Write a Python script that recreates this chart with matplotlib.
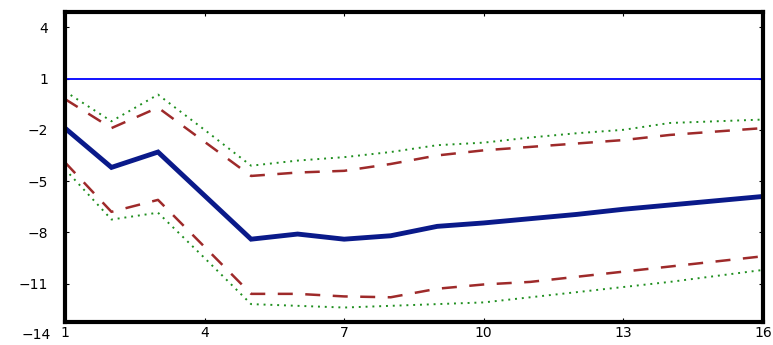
import matplotlib
matplotlib.use("Agg")
import matplotlib.pyplot as plt

periods = list(range(1, 17))
mean_resp = [-1.9, -4.2, -3.3, -5.85, -8.4, -8.1, -8.4, -8.2, -7.65, -7.45, -7.2, -6.95, -6.65, -6.4, -6.15, -5.9]
upper_dash = [-0.2, -1.9, -0.7, -2.7, -4.7, -4.5, -4.4, -4.0, -3.5, -3.2, -3.0, -2.8, -2.6, -2.3, -2.1, -1.9]
lower_dash = [-3.9, -6.8, -6.1, -8.85, -11.6, -11.6, -11.75, -11.8, -11.3, -11.05, -10.9, -10.6, -10.3, -10.0, -9.7, -9.4]
upper_dot = [0.25, -1.5, 0.06, -2.0, -4.1, -3.8, -3.6, -3.3, -2.9, -2.75, -2.45, -2.2, -2.0, -1.6, -1.5, -1.4]
lower_dot = [-4.3, -7.25, -6.85, -9.5, -12.2, -12.3, -12.4, -12.3, -12.2, -12.1, -11.8, -11.5, -11.2, -10.9, -10.55, -10.2]
ref_level = 1
xticks = [1, 4, 7, 10, 13, 16]
yticks = [4, 1, -2, -5, -8, -11]

fig = plt.figure(figsize=(7.73, 3.45), dpi=100)
ax = fig.add_axes([0.084, 0.067, 0.903, 0.898])

ax.axhline(ref_level, color="#0000ff", lw=1.3)
ax.plot(periods, upper_dot, color="#1f8f1f", lw=1.4, ls=(0, (1, 2.5)))
ax.plot(periods, lower_dot, color="#1f8f1f", lw=1.4, ls=(0, (1, 2.5)))
ax.plot(periods, upper_dash, color="#9e2a2a", lw=1.8, ls=(0, (6, 5)))
ax.plot(periods, lower_dash, color="#9e2a2a", lw=1.8, ls=(0, (6, 5)))
ax.plot(periods, mean_resp, color="#0a1a8a", lw=3.5, solid_joinstyle="miter")

ax.set_xlim(1, 16)
ax.set_ylim(-13.24, 4.89)
ax.set_xticks(xticks)
ax.set_yticks(yticks)
ax.set_xticklabels([str(v) for v in xticks])
ax.set_yticklabels([str(v).replace("-", "\u2212") for v in yticks])
ax.text(-0.02, -14, "\u221214", transform=ax.get_yaxis_transform(), ha="right",
        va="center", fontsize=10, clip_on=False)

ax.tick_params(axis="both", direction="in", length=3, width=0.8, labelsize=10,
               top=True, right=True)
ax.tick_params(axis="y", pad=12)
ax.tick_params(axis="x", pad=3)
for s in ax.spines.values():
    s.set_linewidth(3)
    s.set_color("black")

fig.savefig("out.png", dpi=100)
